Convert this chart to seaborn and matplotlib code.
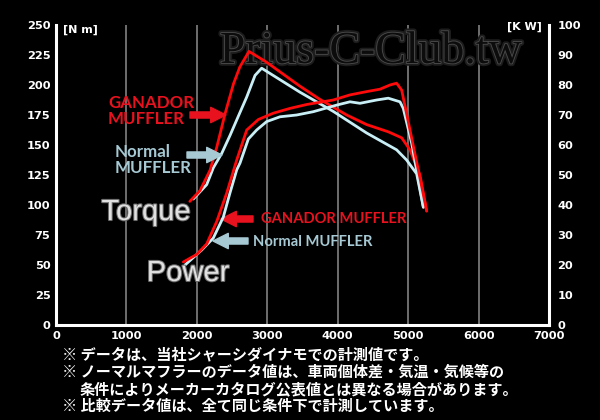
import matplotlib
matplotlib.use("Agg")
import matplotlib.pyplot as plt
import seaborn as sns
import pandas as pd
from matplotlib import patheffects as pe

# ---------------- data ----------------
ganador_torque_rpm = [1900, 2045, 2187, 2282, 2400, 2520, 2610, 2740, 2990, 3464, 3748, 4127, 4411, 4718, 4908, 5026, 5168, 5263]
ganador_torque_nm = [103, 112, 129, 148, 176, 201, 215, 228, 219, 199, 188, 175, 167, 161, 156, 146, 125, 95]

normal_torque_rpm = [1950, 2140, 2234, 2353, 2471, 2589, 2708, 2826, 2920, 3464, 3937, 4411, 4836, 4978, 5121, 5216]
normal_torque_nm = [105, 117, 131, 143, 158, 174, 190, 208, 214, 194, 178, 160, 146, 137.5, 126, 98]

ganador_power_rpm = [1808, 1997, 2139, 2282, 2424, 2566, 2708, 2873, 3085, 3322, 3559, 3937, 4174, 4411, 4600, 4742, 4836, 4908, 5168, 5263]
ganador_power_kw = [21, 23.5, 27, 34.5, 44, 55, 65, 68.5, 70.6, 72.2, 73.5, 75, 76.7, 77.8, 78.6, 80, 80.6, 78.3, 49, 38]

normal_power_rpm = [1832, 2069, 2234, 2376, 2470, 2566, 2613, 2731, 2849, 2991, 3180, 3417, 3653, 3985, 4174, 4316, 4553, 4718, 4884, 4931, 5050, 5216]
normal_power_kw = [20, 25, 29, 36, 44, 51.7, 54, 62, 65, 67.8, 69.4, 70, 71.1, 73.3, 74.4, 73.9, 75, 75.6, 74.4, 72.2, 60.6, 39.4]

x_ticks = [0, 1000, 2000, 3000, 4000, 5000, 6000, 7000]
torque_ticks = [0, 25, 50, 75, 100, 125, 150, 175, 200, 225, 250]
power_ticks = [0, 10, 20, 30, 40, 50, 60, 70, 80, 90, 100]

notes = [
    "※ データは、当社シャーシダイナモでの計測値です。",
    "※ ノーマルマフラーのデータ値は、車両個体差・気温・気候等の",
    "条件によりメーカーカタログ公表値とは異なる場合があります。",
    "※ 比較データ値は、全て同じ条件下で計測しています。",
]

torque_df = pd.concat([
    pd.DataFrame({"rpm": normal_torque_rpm, "val": normal_torque_nm, "muffler": "Normal"}),
    pd.DataFrame({"rpm": ganador_torque_rpm, "val": ganador_torque_nm, "muffler": "GANADOR"}),
])
power_df = pd.concat([
    pd.DataFrame({"rpm": normal_power_rpm, "val": normal_power_kw, "muffler": "Normal"}),
    pd.DataFrame({"rpm": ganador_power_rpm, "val": ganador_power_kw, "muffler": "GANADOR"}),
])

RED = "#ff0a0a"
BLUE = "#c8eef6"
LABEL_RED = "#e8121e"
LABEL_BLUE = "#a6c9d3"
palette = {"Normal": BLUE, "GANADOR": RED}

# ---------------- style ----------------
sns.set_theme(style="dark", rc={
    "figure.facecolor": "black",
    "axes.facecolor": "black",
    "savefig.facecolor": "black",
})
plt.rcParams["font.family"] = ["DejaVu Sans", "Noto Sans CJK JP"]

W, H = 600, 420
fig = plt.figure(figsize=(6, 4.2), dpi=100)
ax = fig.add_axes([56 / W, 1 - 325 / H, 493 / W, 300 / H])
ax2 = ax.twinx()
ax2.set_position([56 / W, 1 - 325 / H, 493 / W, 300 / H])


def fp(x, y):
    return (x / W, 1 - y / H)


# lines
sns.lineplot(data=torque_df, x="rpm", y="val", hue="muffler", hue_order=["Normal", "GANADOR"],
             palette=palette, sort=False, estimator=None, legend=False, linewidth=2.0, ax=ax, zorder=3)
sns.lineplot(data=power_df, x="rpm", y="val", hue="muffler", hue_order=["Normal", "GANADOR"],
             palette=palette, sort=False, estimator=None, legend=False, linewidth=2.0, ax=ax2, zorder=3)

ax.set_xlim(0, 7000)
ax.set_ylim(0, 250)
ax2.set_ylim(0, 100)
ax.set_xlabel("")
ax.set_ylabel("")
ax2.set_ylabel("")

ax.set_xticks(x_ticks)
ax.set_yticks(torque_ticks)
ax2.set_yticks(power_ticks)
ax.grid(False)
ax2.grid(False)
ax.xaxis.grid(True, color="#8c8c8c", linewidth=1.1, zorder=1)
ax.set_axisbelow(True)

ax.tick_params(axis="x", colors="white", labelsize=8.2, length=0, pad=4)
ax.tick_params(axis="y", colors="white", labelsize=8.2, length=0, pad=4)
ax2.tick_params(axis="y", colors="white", labelsize=8.2, length=0, pad=6)
for lab in ax.get_xticklabels() + ax.get_yticklabels() + ax2.get_yticklabels():
    lab.set_fontweight("bold")

for s in ["top", "right"]:
    ax.spines[s].set_visible(False)
for s in ["left", "bottom"]:
    ax.spines[s].set_color("white")
    ax.spines[s].set_linewidth(2.2)
for s in ["top", "left", "bottom"]:
    ax2.spines[s].set_visible(False)
ax2.spines["right"].set_color("white")
ax2.spines["right"].set_linewidth(2.2)
ax2.patch.set_visible(False)

# unit labels
fig.text(*fp(63, 30), "[N m]", color="white", fontsize=8, fontweight="bold", ha="left", va="center")
fig.text(*fp(542, 27), "[K W]", color="white", fontsize=8, fontweight="bold", ha="right", va="center")

# watermark
ax.text(*fp(371, 63), "Prius-C-Club.tw", transform=fig.transFigure, family="Liberation Serif",
        fontsize=33, color="#0c0c0c", ha="center", va="baseline", zorder=1,
        path_effects=[pe.Stroke(linewidth=4, foreground="#1c1c1c"),
                      pe.Stroke(linewidth=1.3, foreground="#4a4a4a"), pe.Normal()])

# curve labels
lab_font = dict(family="Lato", fontweight="bold")
fig.text(*fp(108, 111), "GANADOR\nMUFFLER", color=LABEL_RED, fontsize=12.2, ha="left", va="center",
         linespacing=0.95, **lab_font)
fig.text(*fp(115, 160), "Normal\nMUFFLER", color=LABEL_BLUE, fontsize=12.2, ha="left", va="center",
         linespacing=0.95, **lab_font)
fig.text(*fp(261, 219), "GANADOR MUFFLER", color=LABEL_RED, fontsize=10.6, ha="left", va="center", **lab_font)
fig.text(*fp(253, 242), "Normal MUFFLER", color=LABEL_BLUE, fontsize=10.6, ha="left", va="center", **lab_font)

big = dict(family="Liberation Sans", fontsize=21, color="#e0e0e0", ha="center", va="center",
           path_effects=[pe.withStroke(linewidth=1.5, foreground="#6a6a6a")])
fig.text(*fp(146, 212), "Torque", **big)
fig.text(*fp(188, 273), "Power", **big)


def arrow(x0, y0, x1, y1, color):
    ax.annotate("", xy=(x1, H - y1), xytext=(x0, H - y0), xycoords="figure pixels",
                textcoords="figure pixels", annotation_clip=False,
                arrowprops=dict(arrowstyle="simple,head_length=0.55,head_width=0.55,tail_width=0.22",
                                color=color, mutation_scale=20, shrinkA=0, shrinkB=0))


arrow(190, 115, 226, 115, LABEL_RED)
arrow(187, 155, 222, 155, LABEL_BLUE)
arrow(253, 219, 221, 219, LABEL_RED)
arrow(248, 241, 213, 241, LABEL_BLUE)

# footnotes
jp = dict(family=["Noto Sans CJK JP", "DejaVu Sans"], fontsize=10.9, fontweight="bold", color="white",
          ha="left", va="center")
fig.text(*fp(62, 354), notes[0], **jp)
fig.text(*fp(62, 372), notes[1], **jp)
fig.text(*fp(80, 389), notes[2], **jp)
fig.text(*fp(62, 406), notes[3], **jp)

fig.savefig("out.png", dpi=100, facecolor="black")
